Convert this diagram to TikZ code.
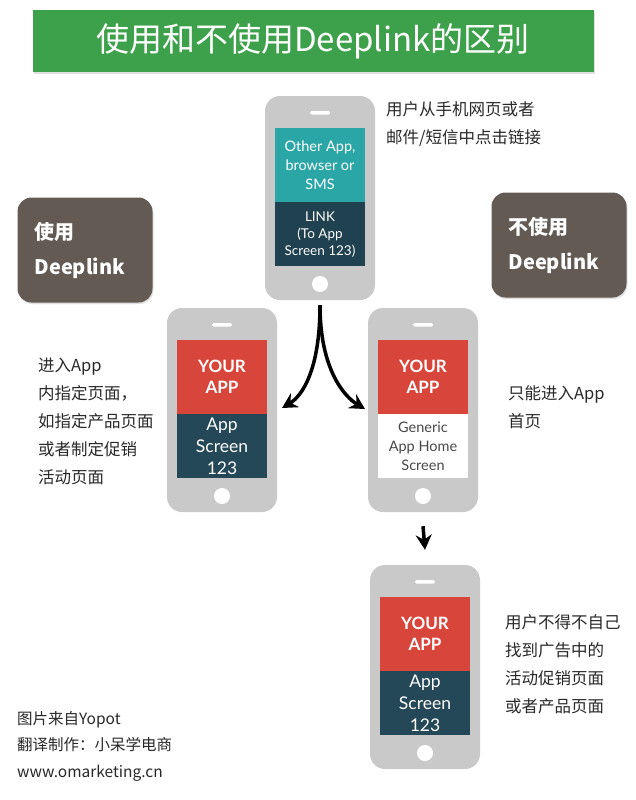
\documentclass[tikz,border=0pt]{standalone}
\usepackage{fontspec}
\setmainfont{Noto Sans CJK SC}
\newfontfamily\screenfont{Lato}
\usetikzlibrary{arrows.meta, positioning, shadows}

\definecolor{titlegreen}{RGB}{61,160,74}
\definecolor{boxbrown}{RGB}{100,90,84}
\definecolor{phonegrey}{RGB}{201,201,201}
\definecolor{appteal}{RGB}{43,166,166}
\definecolor{appnavy}{RGB}{36,72,88}
\definecolor{appred}{RGB}{216,70,59}
\definecolor{bodytext}{RGB}{40,40,40}

\begin{document}
\begin{tikzpicture}[x=1pt, y=-1pt,
    phone/.style={fill=phonegrey, rounded corners=15pt, minimum width=110pt, minimum height=204pt, inner sep=0pt},
    slot/.style={fill=white, minimum width=20pt, minimum height=3.5pt, rounded corners=1.5pt, inner sep=0pt},
    homebtn/.style={circle, fill=white, minimum size=16pt, inner sep=0pt},
    scr/.style={minimum width=90pt, inner sep=0pt, align=center, text=white},
    uppart/.style={scr, minimum height=74pt},
    lowpart/.style={scr, minimum height=64pt},
    yourapp/.style={uppart, fill=appred, font=\screenfont\bfseries\fontsize{17}{21}\selectfont},
    appscreen/.style={lowpart, fill=appnavy, font=\screenfont\fontsize{17.5}{22}\selectfont},
    note/.style={anchor=west, align=left, text=bodytext, inner sep=0pt, font=\fontsize{16.5}{28}\selectfont},
    labelbox/.style={fill=boxbrown, rounded corners=14pt, text=white, align=left, text width=101pt,
                     inner xsep=17pt, minimum height=105pt, font=\bfseries\fontsize{20}{35}\selectfont,
                     drop shadow={opacity=0.25, shadow xshift=1pt, shadow yshift=-1.5pt}},
    flow/.style={line width=3.5pt, -{Stealth[length=15pt, width=16pt, inset=5pt]}}]
\useasboundingbox (0,0) rectangle (635,800);

% title
\node[fill=titlegreen, minimum width=561pt, minimum height=62pt, text=white,
      font=\fontsize{33}{36}\selectfont,
      drop shadow={opacity=0.25, shadow xshift=1pt, shadow yshift=-2pt}] (title) at (313,41) {使用和不使用Deeplink的区别};

% side labels
\node[labelbox] (useBox) at (85,250) {使用\\Deeplink};
\node[labelbox] (noBox) at (559,245) {不使用\\Deeplink};

% top phone
\node[phone] (topPh) at (320,198) {};
\node[slot, below=15pt of topPh.north] (topSlot) {};
\node[uppart, fill=appteal, font=\screenfont\fontsize{14.5}{19}\selectfont, below=32pt of topPh.north] (topApp) {Other App,\\browser or\\SMS};
\node[lowpart, fill=appnavy!90!black, font=\screenfont\fontsize{13.5}{17}\selectfont, below=0pt of topApp] (topLink) {LINK\\(To App\\Screen 123)};
\node[homebtn, above=8pt of topPh.south] (topHome) {};

% left phone
\node[phone] (leftPh) at (222,410) {};
\node[slot, below=15pt of leftPh.north] (leftSlot) {};
\node[yourapp, below=32pt of leftPh.north] (leftApp) {YOUR\\APP};
\node[appscreen, below=0pt of leftApp] (leftScreen) {App\\Screen\\123};
\node[homebtn, above=8pt of leftPh.south] (leftHome) {};

% right phone
\node[phone] (rightPh) at (423,410) {};
\node[slot, below=15pt of rightPh.north] (rightSlot) {};
\node[yourapp, below=32pt of rightPh.north] (rightApp) {YOUR\\APP};
\node[lowpart, fill=white, text=bodytext!85, font=\screenfont\fontsize{14.5}{19}\selectfont, below=0pt of rightApp] (rightScreen) {Generic\\App Home\\Screen};
\node[homebtn, above=8pt of rightPh.south] (rightHome) {};

% bottom phone
\node[phone] (bottomPh) at (425,667) {};
\node[slot, below=15pt of bottomPh.north] (bottomSlot) {};
\node[yourapp, below=32pt of bottomPh.north] (bottomApp) {YOUR\\APP};
\node[appscreen, below=0pt of bottomApp] (bottomScreen) {App\\Screen\\123};
\node[homebtn, above=8pt of bottomPh.south] (bottomHome) {};

% arrows
\coordinate (fork) at ([yshift=-5pt]topPh.south);
\coordinate (tipL) at (282,408);
\coordinate (tipR) at (365,409);
\draw[flow] (fork) .. controls +(0,65) and +(20,-12) .. (tipL);
\draw[flow] (fork) .. controls +(0,65) and +(-20,-12) .. (tipR);
\draw[flow] ([yshift=-14pt]rightPh.south) -- ([yshift=15pt]bottomPh.north);

% notes
\node[note] (clickNote) at (386,124) {用户从手机网页或者\\邮件/短信中点击链接};
\node[note] (useNote) at (38,421) {进入App\\内指定页面，\\如指定产品页面\\或者制定促销\\活动页面};
\node[note] (homeNote) at (508,407) {只能进入App\\首页};
\node[note] (findNote) at (505,664) {用户不得不自己\\找到广告中的\\活动促销页面\\或者产品页面};
\node[note, font=\fontsize{15.5}{26.5}\selectfont] (srcNote) at (17,746) {图片来自Yopot\\翻译制作：小呆学电商\\www.omarketing.cn};
\end{tikzpicture}
\end{document}
